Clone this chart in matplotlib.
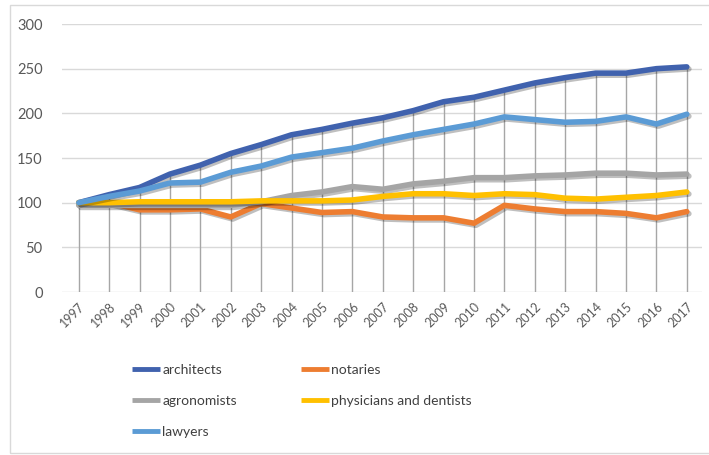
import matplotlib
matplotlib.use("Agg")
import matplotlib.pyplot as plt
import matplotlib.patheffects as pe
from matplotlib.patches import Rectangle
from matplotlib.lines import Line2D

years = list(range(1997, 2018))

architects = [100, 109, 117, 132, 142, 155, 165, 176, 182, 189, 195, 203, 213, 218, 226, 234, 240, 245, 245, 250, 252]
notaries = [100, 100, 92, 92, 93, 84, 99, 94, 89, 90, 84, 83, 83, 77, 97, 93, 90, 90, 88, 83, 90]
agronomists = [97, 97, 97, 97, 97, 97, 101, 108, 112, 118, 115, 121, 124, 128, 128, 130, 131, 133, 133, 131, 132]
physicians = [100, 100, 101, 101, 101, 101, 102, 102, 102, 103, 107, 110, 110, 108, 110, 109, 105, 104, 106, 108, 112]
lawyers = [100, 107, 113, 122, 123, 134, 141, 151, 156, 161, 169, 176, 182, 188, 196, 193, 190, 191, 196, 188, 199]

series = [
    ("architects", architects, "#4062AE"),
    ("notaries", notaries, "#ED7D31"),
    ("agronomists", agronomists, "#A5A5A5"),
    ("physicians and dentists", physicians, "#FFC000"),
    ("lawyers", lawyers, "#5B9BD5"),
]

plt.rcParams['font.family'] = ['Lato', 'DejaVu Sans']

fig = plt.figure(figsize=(7.09, 4.55), dpi=100)
fig.patches.append(Rectangle((10 / 709, 0.005), 0.99, 1 - 5 / 455 - 0.005, transform=fig.transFigure,
                             fill=False, edgecolor="#D9D9D9", linewidth=1))
ax = fig.add_axes([62 / 709, 1 - 292 / 455, (702 - 62) / 709, (292 - 24) / 455])

# drop lines from the highest series down to the axis
tops = [max(vals) for vals in zip(*[s[1] for s in series])]
ax.vlines(years, 0, tops, color="#A6A6A6", linewidth=1, zorder=1)

colors = {}
for name, vals, color in series:
    ax.plot(years, vals, color=color, linewidth=4, solid_capstyle="round", zorder=3,
            path_effects=[pe.SimpleLineShadow(offset=(1.5, -1.5), alpha=0.25), pe.Normal()])
    colors[name] = color

ax.set_xlim(1996.45, 2017.5)
ax.set_ylim(0, 300)
ax.set_yticks(range(0, 301, 50))
ax.set_xticks(years)
ax.set_xticklabels([str(y) for y in years], rotation=45, ha="right", va="top", rotation_mode="anchor")
ax.grid(axis="y", color="#D9D9D9", linewidth=1)
ax.set_axisbelow(True)
for s in ax.spines.values():
    s.set_visible(False)
ax.tick_params(axis="y", length=0, pad=14, labelsize=10.5, labelcolor="#595959")
ax.tick_params(axis="x", length=0, pad=6, labelsize=9, labelcolor="#595959")

order = ["architects", "agronomists", "lawyers", "notaries", "physicians and dentists"]
proxies = [Line2D([], [], color=colors[n], linewidth=3.5, solid_capstyle="butt") for n in order]
leg = fig.legend(proxies, order, ncol=2, loc="upper left",
                 bbox_to_anchor=(120 / 709, 1 - 351 / 455), frameon=False, fontsize=10,
                 handlelength=2.0, handletextpad=0.15, columnspacing=4.6, labelspacing=1.37)
for t in leg.get_texts():
    t.set_color("#404040")

fig.savefig("out.png", dpi=100)
